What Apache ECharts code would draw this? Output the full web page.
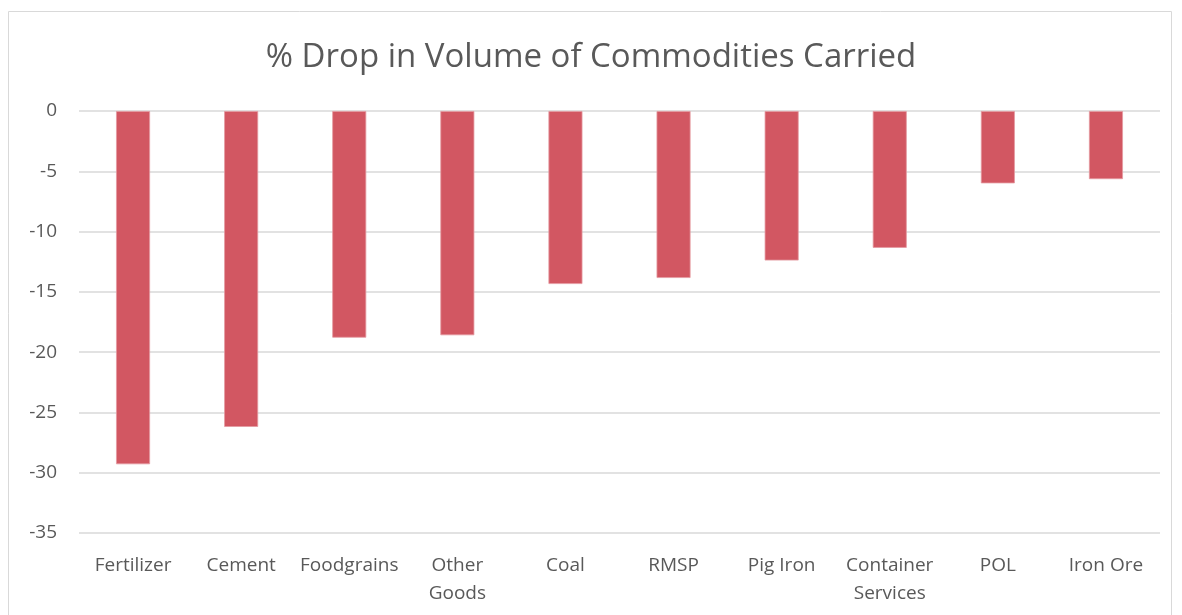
<!DOCTYPE html>
<html><head><meta charset="utf-8">
<script src="https://cdn.jsdelivr.net/npm/echarts@6/dist/echarts.min.js"></script>
<style>html,body{margin:0;padding:0;background:#fff}#c{width:1182px;height:615px}</style>
</head><body><div id="c"></div>
<script>
const title = "% Drop in Volume of Commodities Carried";
const categories = ["Fertilizer","Cement","Foodgrains","Other Goods","Coal","RMSP","Pig Iron","Container Services","POL","Iron Ore"];
const values = [-29.3,-26.2,-18.8,-18.6,-14.35,-13.85,-12.4,-11.35,-6.0,-5.65];
const yTicks = {min:-35, max:0, interval:5};

const chart = echarts.init(document.getElementById('c'), null, {renderer:'canvas'});
chart.setOption({
  animation:false,
  graphic:[{type:'rect', shape:{x:8.5,y:11.5,width:1163,height:620}, style:{fill:'none', stroke:'#d9d9d9', lineWidth:1}, silent:true}],
  title:{text:title, left:'center', top:36, textStyle:{fontFamily:'Open Sans', fontWeight:'normal', fontSize:33, color:'#595959'}},
  grid:{left:79, right:22, top:111, height:422, containLabel:false},
  xAxis:{type:'category', data:categories, position:'bottom',
    axisLine:{show:false}, axisTick:{show:false},
    axisLabel:{interval:0, fontFamily:'Open Sans', fontSize:19, color:'#595959', margin:19, lineHeight:28,
      formatter: v => v.length > 10 ? v.replace(' ', '\n') : v}},
  yAxis:{type:'value', min:yTicks.min, max:yTicks.max, interval:yTicks.interval,
    axisLine:{show:false}, axisTick:{show:false},
    splitLine:{lineStyle:{color:'#d9d9d9', width:1.5}},
    axisLabel:{fontFamily:'Open Sans', fontSize:19, color:'#595959', margin:22}},
  series:[{type:'bar', data:values, barWidth:34,
    itemStyle:{color:'#d25762', borderColor:'#e49aa1', borderWidth:0.8}}]
});
</script></body></html>
